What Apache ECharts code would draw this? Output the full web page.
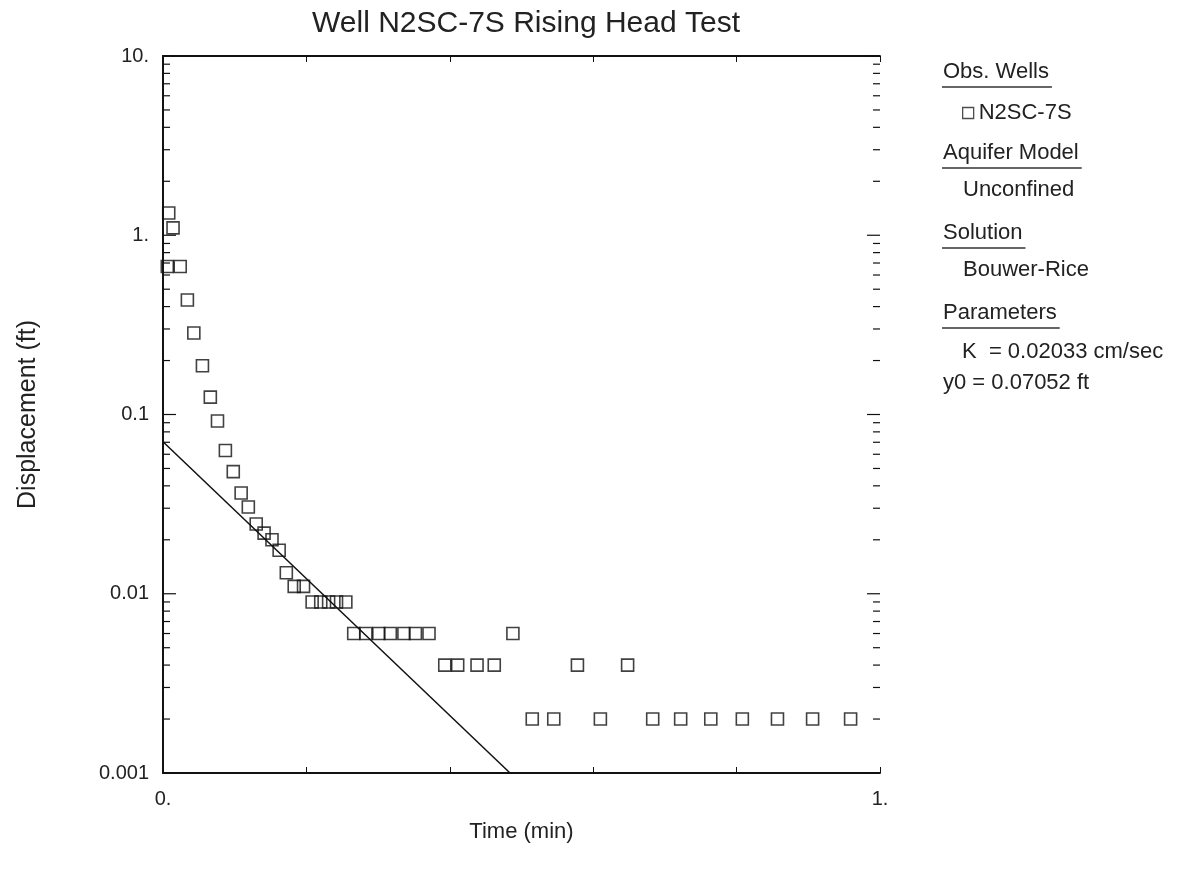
<!DOCTYPE html>
<html>
<head>
<meta charset="utf-8">
<script src="https://cdn.jsdelivr.net/npm/echarts@6/dist/echarts.min.js"></script>
<style>html,body{margin:0;padding:0;background:#fff;}#chart{width:1197px;height:877px;}</style>
</head>
<body>
<div id="chart"></div>
<script>
// Observed data: time (min) and displacement (ft)
const obsTime = [0.006,0.008,0.014,0.024,0.034,0.043,0.055,0.066,0.076,0.087,0.098,0.109,0.119,0.130,0.141,0.152,0.162,0.172,0.183,0.196,
  0.208,0.220,0.231,0.242,0.255,
  0.266,0.283,0.301,0.317,0.336,0.352,0.371,
  0.393,0.411,0.438,0.462,0.488,
  0.515,0.545,0.578,0.610,0.648,0.683,0.722,0.764,0.808,0.857,0.906,0.959];
const obsDisp = [0.67,1.33,1.10,0.67,0.435,0.285,0.187,0.125,0.092,0.063,0.048,0.0365,0.0305,0.0245,0.0218,0.020,0.0175,0.0131,0.011,0.011,
  0.009,0.009,0.009,0.009,0.009,
  0.006,0.006,0.006,0.006,0.006,0.006,0.006,
  0.004,0.004,0.004,0.004,0.006,
  0.002,0.002,0.004,0.002,0.004,0.002,0.002,0.002,0.002,0.002,0.002,0.002];
// Bouwer-Rice fitted line (end points)
const fitTime = [0, 0.484];
const fitDisp = [0.07052, 0.001];
// Axis ticks
const yMajorTicks = [0.001, 0.01, 0.1, 1, 10];
const yMajorLabels = {"0.001":"0.001","0.01":"0.01","0.1":"0.1","1":"1.","10":"10."};
const xLabels = {"0":"0.","1":"1."};
const yMinorTicks = [0.002,0.003,0.004,0.005,0.006,0.007,0.008,0.009,
  0.02,0.03,0.04,0.05,0.06,0.07,0.08,0.09,
  0.2,0.3,0.4,0.5,0.6,0.7,0.8,0.9,
  2,3,4,5,6,7,8,9];
// Side panel text
const panelTitles = ["Obs. Wells","Aquifer Model","Solution","Parameters"];
const wellName = "N2SC-7S";
const modelName = "Unconfined";
const solutionName = "Bouwer-Rice";
const paramLines = ["K  = 0.02033 cm/sec","y0 = 0.07052 ft"];

const FONT = "'Liberation Sans', Arial, sans-serif";
const TXT = '#222';
const PANEL_FS = 22;
const chart = echarts.init(document.getElementById('chart'));

const obsData = obsTime.map((t,i)=>[t, obsDisp[i]]);
const fitData = fitTime.map((t,i)=>[t, fitDisp[i]]);
const tickData = yMajorTicks.map(v => [0, v, 13]).concat(yMinorTicks.map(v => [0, v, 7]));

const measureCtx = document.createElement('canvas').getContext('2d');
function textWidth(t, fs) { measureCtx.font = fs + 'px ' + FONT; return measureCtx.measureText(t).width; }

function panelText(x, yc, text, underline) {
  const els = [{type:'text', x:x, y:yc, style:{text:text, font:PANEL_FS+'px '+FONT, fill:TXT, verticalAlign:'middle'}}];
  if (underline) {
    const w = textWidth(text, PANEL_FS) + 4;
    els.push({type:'line', shape:{x1:x-1, y1:yc+15, x2:x-1+w, y2:yc+15}, style:{stroke:'#333', lineWidth:1.3}});
  }
  return els;
}

const graphics = [].concat(
  panelText(943, 72, panelTitles[0], true),
  panelText(943, 153, panelTitles[1], true),
  panelText(963, 190, modelName, false),
  panelText(943, 233, panelTitles[2], true),
  panelText(963, 270, solutionName, false),
  panelText(943, 313, panelTitles[3], true),
  panelText(962, 352, paramLines[0], false),
  panelText(943, 383, paramLines[1], false)
);

const option = {
  backgroundColor: '#fff',
  animation: false,
  title: {
    text: 'Well N2SC-7S Rising Head Test',
    left: 521, textAlign: 'center', top: 4,
    textStyle: {fontFamily: FONT, fontSize: 30, fontWeight: 'normal', color: TXT}
  },
  legend: {
    data: [{name: wellName, icon: 'rect'}],
    left: 957, top: 97,
    itemWidth: 11, itemHeight: 11, itemGap: 4,
    textStyle: {fontFamily: FONT, fontSize: PANEL_FS, color: TXT},
    itemStyle: {color: 'rgba(0,0,0,0)', borderColor: '#222', borderWidth: 1.3}
  },
  grid: {left: 163, right: 317, top: 56, bottom: 104},
  xAxis: [{
    type: 'value', min: 0, max: 1, interval: 0.2, position: 'bottom',
    name: 'Time (min)', nameLocation: 'middle', nameGap: 48,
    nameTextStyle: {fontFamily: FONT, fontSize: 22, color: TXT},
    axisLine: {lineStyle: {color: '#111', width: 1.8}},
    axisTick: {inside: true, length: 6, lineStyle: {color: '#111'}},
    axisLabel: {fontFamily: FONT, fontSize: 20, color: TXT, margin: 16,
      formatter: v => xLabels[String(v)] || ''},
    splitLine: {show: false}
  }, {
    type: 'value', min: 0, max: 1, interval: 0.2, position: 'top',
    axisLine: {lineStyle: {color: '#111', width: 1.8}},
    axisTick: {inside: true, length: 6, lineStyle: {color: '#111'}},
    axisLabel: {show: false}, splitLine: {show: false}
  }],
  yAxis: [{
    type: 'log', logBase: 10, min: 0.001, max: 10, position: 'left',
    name: 'Displacement (ft)', nameLocation: 'middle', nameGap: 122,
    nameTextStyle: {fontFamily: FONT, fontSize: 25, color: TXT},
    axisLine: {lineStyle: {color: '#111', width: 1.8}},
    axisTick: {show: false},
    axisLabel: {fontFamily: FONT, fontSize: 20, color: TXT, margin: 14,
      formatter: v => { const k = String(+v.toPrecision(3)); return yMajorLabels[k] || ''; }},
    splitLine: {show: false}
  }, {
    type: 'log', logBase: 10, min: 0.001, max: 10, position: 'right',
    axisLine: {lineStyle: {color: '#111', width: 1.8}},
    axisTick: {show: false},
    axisLabel: {show: false}, splitLine: {show: false}
  }],
  series: [{
    name: wellName, type: 'scatter', xAxisIndex: 0, yAxisIndex: 0,
    data: obsData, symbol: 'rect', symbolSize: 12,
    itemStyle: {color: 'rgba(0,0,0,0)', borderColor: '#111', borderWidth: 1.6},
    z: 3
  }, {
    name: 'fit', type: 'line', xAxisIndex: 0, yAxisIndex: 0,
    data: fitData, showSymbol: false, symbol: 'none',
    lineStyle: {color: '#111', width: 1.5}, z: 2
  }, {
    name: 'yTicks', type: 'custom', xAxisIndex: 0, yAxisIndex: 0,
    data: tickData, silent: true, clip: false,
    renderItem: function (params, api) {
      const p = api.coord([0, api.value(1)]);
      const len = api.value(2);
      const cs = params.coordSys;
      const st = {stroke: '#111', lineWidth: 1.2};
      return {type: 'group', children: [
        {type: 'line', shape: {x1: cs.x, y1: p[1], x2: cs.x + len, y2: p[1]}, style: st},
        {type: 'line', shape: {x1: cs.x + cs.width - len, y1: p[1], x2: cs.x + cs.width, y2: p[1]}, style: st}
      ]};
    }
  }],
  graphic: graphics
};
chart.setOption(option);
</script>
</body>
</html>
